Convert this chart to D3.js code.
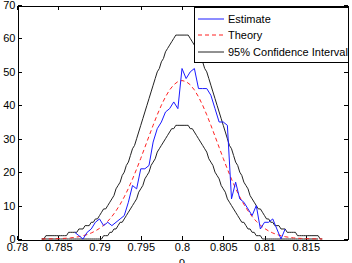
<!DOCTYPE html>
<html>
<head>
<meta charset="utf-8">
<script src="https://cdn.jsdelivr.net/npm/d3@7"></script>
<style>
body { margin: 0; background: #fff; }
svg { display: block; }
</style>
</head>
<body>
<script>
// confidence interval bounds, sampled every 0.00025 from rho = 0.783
var ciStart = 0.783, ciStep = 0.00025;
var ciUpper = [0,0,1,1,1,1,1,1,1,1,1,1,1,2,2,2,2,2,3,3,3,4,4,4,5,5,6,6,7,8,9,9,10,11,12,13,15,16,17,19,20,22,23,25,27,28,30,32,34,36,38,40,42,44,46,48,50,51,53,54,56,57,58,59,60,61,61,61,
    61,
    61,61,61,60,59,58,57,56,54,53,51,50,48,46,44,42,40,38,36,34,32,30,28,27,25,23,22,20,19,17,16,15,13,12,11,10,9,9,8,7,6,6,5,5,4,4,4,3,3,3,2,2,2,2,2,1,1,1,1,1,1,1,1,1,1,1,0,0];
var ciLower = [0,0,0,0,0,0,0,0,0,0,0,0,0,0,0,0,0,0,0,0,0,0,0,0,0,0,0,0,0,0,1,1,1,2,2,3,3,4,5,5,6,7,8,9,10,11,12,14,15,16,18,19,20,22,23,24,26,27,28,29,30,31,32,33,33,34,34,34,
    34,
    34,34,34,33,33,32,31,30,29,28,27,26,24,23,22,20,19,18,16,15,14,12,11,10,9,8,7,6,5,5,4,3,3,2,2,1,1,1,0,0,0,0,0,0,0,0,0,0,0,0,0,0,0,0,0,0,0,0,0,0,0,0,0,0,0,0];

// theoretical curve, every 0.0005 from rho = 0.783
var theoryStart = 0.783, theoryStep = 0.0005;
var theory = [0.02,0.03,0.05,0.07,0.11,0.16,0.24,0.34,0.49,0.69,0.97,1.33,1.80,2.40,3.17,4.13,5.30,6.72,8.40,10.35,12.60,15.12,17.91,20.92,24.11,27.41,30.75,34.03,37.16,40.03,42.54,44.60,46.14,47.08,
    47.40,
    47.08,46.14,44.60,42.54,40.03,37.16,34.03,30.75,27.41,24.11,20.92,17.91,15.12,12.60,10.35,8.40,6.72,5.30,4.13,3.17,2.40,1.80,1.33,0.97,0.69,0.49,0.34,0.24,0.16,0.11,0.07,0.05,0.03,0.02];

// estimate, every 0.0005 from rho = 0.787
var estimateStart = 0.787, estimateStep = 0.0005;
var estimate = [2,1,0,2,3,5,6,4,5,4,5,6,7,11,16,15,21,21,22,29,33,35,38,39,41,39,51,48,50,51,45,45,45,43,39,35,35,34,12,17,12,11,9,7,10,3,5,5,6,3,0,3];

var xTicks = [0.78, 0.785, 0.79, 0.795, 0.8, 0.805, 0.81, 0.815];
var yTicks = [0, 10, 20, 30, 40, 50, 60, 70];
var legendNames = ["Estimate", "Theory", "95% Confidence Interval"];

var FONT = "'Liberation Sans', Arial, Helvetica, sans-serif";
var W = 352, H = 263;
var plotLeft = 17, plotTop = 5, plotRight = 347, plotBottom = 239;

var svg = d3.select("body").append("svg")
    .attr("width", W)
    .attr("height", H);

var x = d3.scaleLinear().domain([0.78, 0.82]).range([plotLeft, plotRight]);
var y = d3.scaleLinear().domain([0, 70]).range([plotBottom, plotTop]);

function toPoints(start, step, values) {
    return values.map(function(v, i) { return [start + i * step, v]; });
}

var line = d3.line()
    .x(function(d) { return x(d[0]); })
    .y(function(d) { return y(d[1]); });

// axes (ticks point inward, matlab style)
function styleAxis(g) {
    g.attr("font-family", FONT).attr("font-size", 11);
    g.selectAll("path, line").attr("stroke", "#000").attr("shape-rendering", "crispEdges");
    g.selectAll("text").attr("fill", "#000");
}

svg.append("g")
    .attr("transform", "translate(0," + (plotBottom + 0.5) + ")")
    .call(d3.axisBottom(x).tickValues(xTicks).tickSizeInner(-4).tickSizeOuter(0).tickPadding(4)
        .tickFormat(d3.format("")))
    .call(styleAxis);

svg.append("g")
    .attr("transform", "translate(0," + (plotTop + 0.5) + ")")
    .call(d3.axisTop(x).tickValues(xTicks).tickSizeInner(-4).tickSizeOuter(0).tickFormat(""))
    .call(styleAxis);

svg.append("g")
    .attr("transform", "translate(" + (plotLeft + 0.5) + ",0)")
    .call(d3.axisLeft(y).tickValues(yTicks).tickSizeInner(-4).tickSizeOuter(0).tickPadding(2))
    .call(styleAxis);

svg.append("g")
    .attr("transform", "translate(" + (plotRight + 0.5) + ",0)")
    .call(d3.axisRight(y).tickValues(yTicks).tickSizeInner(-4).tickSizeOuter(0).tickFormat(""))
    .call(styleAxis);

var plot = svg.append("g");

// data lines
plot.append("path")
    .datum(toPoints(ciStart, ciStep, ciUpper))
    .attr("d", line)
    .attr("fill", "none")
    .attr("stroke", "#222")
    .attr("stroke-width", 1);

plot.append("path")
    .datum(toPoints(ciStart, ciStep, ciLower))
    .attr("d", line)
    .attr("fill", "none")
    .attr("stroke", "#222")
    .attr("stroke-width", 1);

plot.append("path")
    .datum(toPoints(theoryStart, theoryStep, theory))
    .attr("d", line)
    .attr("fill", "none")
    .attr("stroke", "#ff2020")
    .attr("stroke-width", 1)
    .attr("stroke-dasharray", "4,3");

plot.append("path")
    .datum(toPoints(estimateStart, estimateStep, estimate))
    .attr("d", line)
    .attr("fill", "none")
    .attr("stroke", "#1a1aff")
    .attr("stroke-width", 1);

svg.append("text")
    .attr("x", x(0.8))
    .attr("y", 265)
    .attr("text-anchor", "middle")
    .attr("font-family", FONT)
    .attr("font-size", 11)
    .text("ρ");

// legend
var legend = svg.append("g");
legend.append("rect")
    .attr("x", 194.5).attr("y", 7.5)
    .attr("width", 154).attr("height", 55)
    .attr("fill", "#fff")
    .attr("stroke", "#000")
    .attr("shape-rendering", "crispEdges");

var legendColors = ["#1a1aff", "#ff2020", "#222"];
var legendDashes = [null, "4,3", null];

legendNames.forEach(function(name, i) {
    var ly = Math.floor(19 + i * 16.5);
    legend.append("line")
        .attr("x1", 198).attr("x2", 224)
        .attr("y1", ly).attr("y2", ly)
        .attr("stroke", legendColors[i])
        .attr("stroke-width", 1)
        .attr("stroke-dasharray", legendDashes[i]);
    legend.append("text")
        .attr("x", 228)
        .attr("y", ly + 4)
        .attr("font-family", FONT)
        .attr("font-size", 11)
        .text(name);
});
</script>
</body>
</html>
